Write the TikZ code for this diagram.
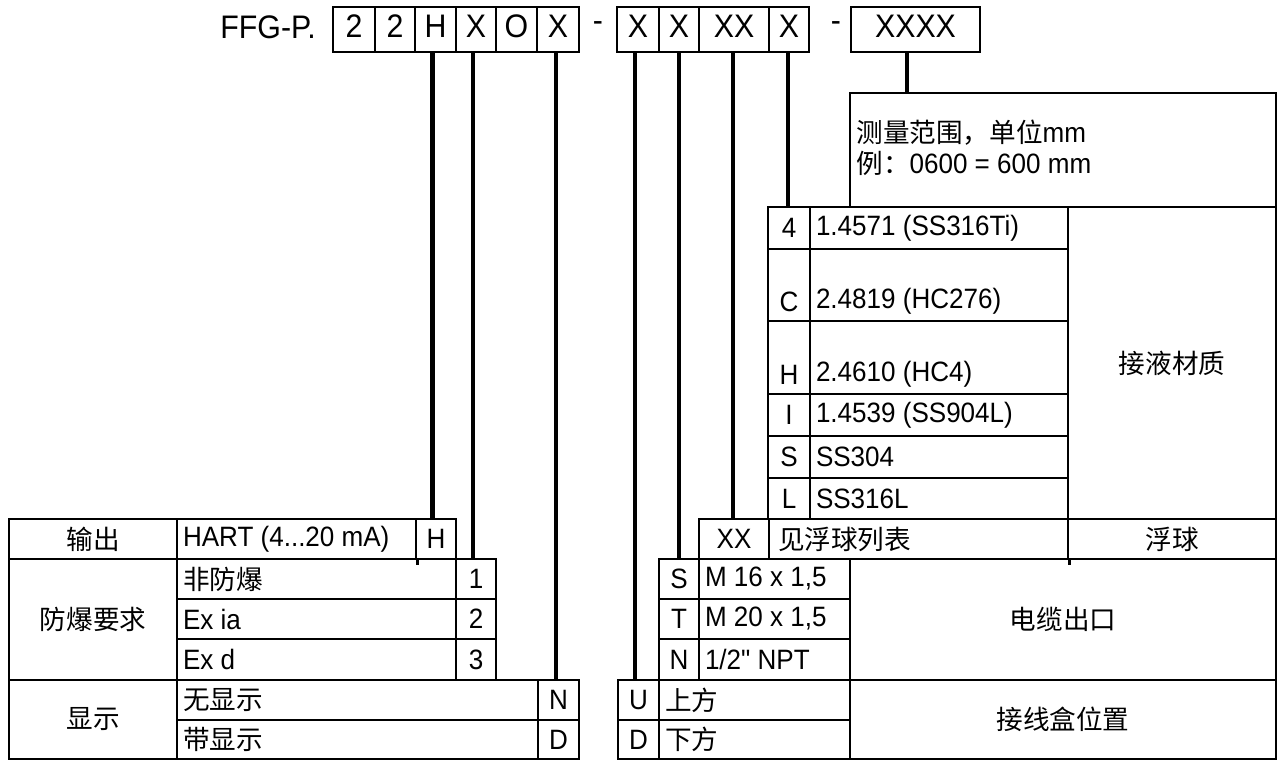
\documentclass[tikz,border=0pt]{standalone}
\usepackage{fontspec}
\setmainfont{Liberation Sans}[FakeStretch=0.93]
\newfontfamily\nomap{Liberation Sans}[FakeStretch=0.93]
\newfontfamily\cjk{Noto Sans CJK SC}[Scale=0.95]
\usetikzlibrary{fit,calc}
\tikzset{
  cell/.style={draw, line width=1.4pt, inner sep=0pt, rectangle},
  conn/.style={line width=2.2pt},
  txt/.style={inner sep=0pt, font=\fontsize{14pt}{16pt}\selectfont},
  big/.style={inner sep=0pt, font=\fontsize{16.3pt}{18pt}\selectfont}
}
\newcommand\mkC[6]{\node[cell, fit={(#2,#3) (#4,#5)}] (#1) {};\node[txt] (#1t) at (#1.center) {#6};}
\newcommand\mkL[6]{\node[cell, fit={(#2,#3) (#4,#5)}] (#1) {};\node[txt, anchor=west] (#1t) at ([xshift=3.5pt]#1.west) {#6};}
\newcommand\mkB[6]{\node[cell, line width=1.3pt, fit={(#2,#3) (#4,#5)}] (#1) {};\node[big] (#1t) at ([yshift=1.5pt]#1.center) {#6};}
\newcommand\mkconn[3]{\draw[conn] ($(#1.south)+(#3,0)$) -- ($(#1.south |- #2.north)+(#3,0)$);}
\begin{document}
\begin{tikzpicture}[x=0.5pt,y=-0.5pt]
\useasboundingbox (0,0) rectangle (1279,760);
% ---- code line ----
\node[big, anchor=base west] (ffg) at (220,38) {FFG-P.};
\mkB{c1}{333}{7}{375}{52}{2}
\mkB{c2}{375}{7}{415}{52}{2}
\mkB{c3}{415}{7}{456}{52}{H}
\mkB{c4}{456}{7}{496}{52}{X}
\mkB{c5}{496}{7}{537}{52}{O}
\mkB{c6}{537}{7}{579}{52}{X}
\node[big] (d1) at (598,27) {-};
\mkB{c7}{617}{7}{659}{52}{X}
\mkB{c8}{659}{7}{699}{52}{X}
\mkB{c9}{699}{7}{769}{52}{XX}
\mkB{c10}{769}{7}{809}{52}{X}
\node[big] (d2) at (836,27) {-};
\mkB{c11}{851}{7}{980}{52}{XXXX}
% ---- left table ----
\mkC{Lout}{9}{519}{177}{559}{\cjk 输出}
\mkL{Lhart}{177}{519}{416}{559}{HART (4...20 mA)}
\mkC{LH}{416}{519}{456}{559}{H}
\draw[line width=1.4pt] (Lhart.south east) -- ++(0,5);
\mkC{Lex}{9}{559}{177}{680}{\cjk 防爆要求}
\mkL{Lexa}{177}{559}{456}{599}{\cjk 非防爆}
\mkC{Lexac}{456}{559}{496}{599}{1}
\mkL{Lexb}{177}{599}{456}{639}{Ex ia}
\mkC{Lexbc}{456}{599}{496}{639}{2}
\mkL{Lexd}{177}{639}{456}{680}{Ex d}
\mkC{Lexdc}{456}{639}{496}{680}{3}
\mkC{Ldisp}{9}{680}{177}{759}{\cjk 显示}
\mkL{Lda}{177}{680}{538}{720}{\cjk 无显示}
\mkC{Ldac}{538}{680}{579}{720}{N}
\mkL{Ldb}{177}{720}{538}{759}{\cjk 带显示}
\mkC{Ldbc}{538}{720}{579}{759}{D}
% ---- measuring range ----
\node[cell, fit={(850,93) (1276,207)}] (meas) {};
\node[txt, anchor=west] (meas1) at (856,133) {{\cjk 测量范围，单位}mm};
\node[txt, anchor=west] (meas2) at (856,163) {{\cjk 例：}0600 = 600 mm};
% ---- material ----
\mkC{m4}{768}{207}{810}{249}{4}
\mkL{m4d}{810}{207}{1068}{249}{1.4571 (SS316Ti)}
\node[cell, fit={(768,249) (810,321)}] (mC) {};
\node[txt] (mCt) at ([yshift=10.5pt]mC.south) {C};
\node[cell, fit={(810,249) (1068,321)}] (mCd) {};
\node[txt, anchor=west] (mCdt) at ([xshift=3.5pt,yshift=10.5pt]mCd.south west) {2.4819 (HC276)};
\node[cell, fit={(768,321) (810,394)}] (mH) {};
\node[txt] (mHt) at ([yshift=10.5pt]mH.south) {H};
\node[cell, fit={(810,321) (1068,394)}] (mHd) {};
\node[txt, anchor=west] (mHdt) at ([xshift=3.5pt,yshift=10.5pt]mHd.south west) {2.4610 (HC4)};
\mkC{mI}{768}{394}{810}{436}{I}
\mkL{mId}{810}{394}{1068}{436}{1.4539 (SS904L)}
\mkC{mS}{768}{436}{810}{478}{S}
\mkL{mSd}{810}{436}{1068}{478}{SS304}
\mkC{mL}{768}{478}{810}{519}{L}
\mkL{mLd}{810}{478}{1068}{519}{SS316L}
\mkC{mR}{1068}{207}{1276}{519}{\cjk 接液材质}
% ---- float ----
\mkC{xx}{699}{519}{769}{559}{XX}
\node[cell, fit={(769,519) (1068,559)}] (xxd) {};
\node[txt, anchor=west] (xxdt) at ([xshift=5pt]xxd.west) {\cjk 见浮球列表};
\mkC{xxr}{1068}{519}{1276}{559}{\cjk 浮球}
\draw[line width=1.4pt] (xxd.south east) -- ++(0,5);
% ---- cable outlet ----
\mkC{cS}{659}{559}{699}{599}{S}
\mkL{cSd}{699}{559}{850}{599}{M 16 x 1,5}
\mkC{cT}{659}{599}{699}{639}{T}
\mkL{cTd}{699}{599}{850}{639}{M 20 x 1,5}
\mkC{cN}{659}{639}{699}{680}{N}
\mkL{cNd}{699}{639}{850}{680}{1/2{\nomap"} NPT}
\mkC{cR}{850}{559}{1276}{680}{\cjk 电缆出口}
% ---- housing position ----
\mkC{pU}{618}{680}{659}{720}{U}
\mkL{pUd}{659}{680}{850}{720}{\cjk 上方}
\mkC{pD}{618}{720}{659}{759}{D}
\mkL{pDd}{659}{720}{850}{759}{\cjk 下方}
\mkC{pR}{850}{680}{1276}{759}{\cjk 接线盒位置}
% ---- connectors ----
\mkconn{c3}{LH}{-3}
\mkconn{c4}{Lexac}{-3}
\mkconn{c6}{Ldac}{-2}
\mkconn{c7}{pU}{-3}
\mkconn{c8}{cS}{0}
\mkconn{c9}{xx}{-1}
\mkconn{c10}{m4}{-1}
\mkconn{c11}{meas}{-8.5}
\end{tikzpicture}
\end{document}
